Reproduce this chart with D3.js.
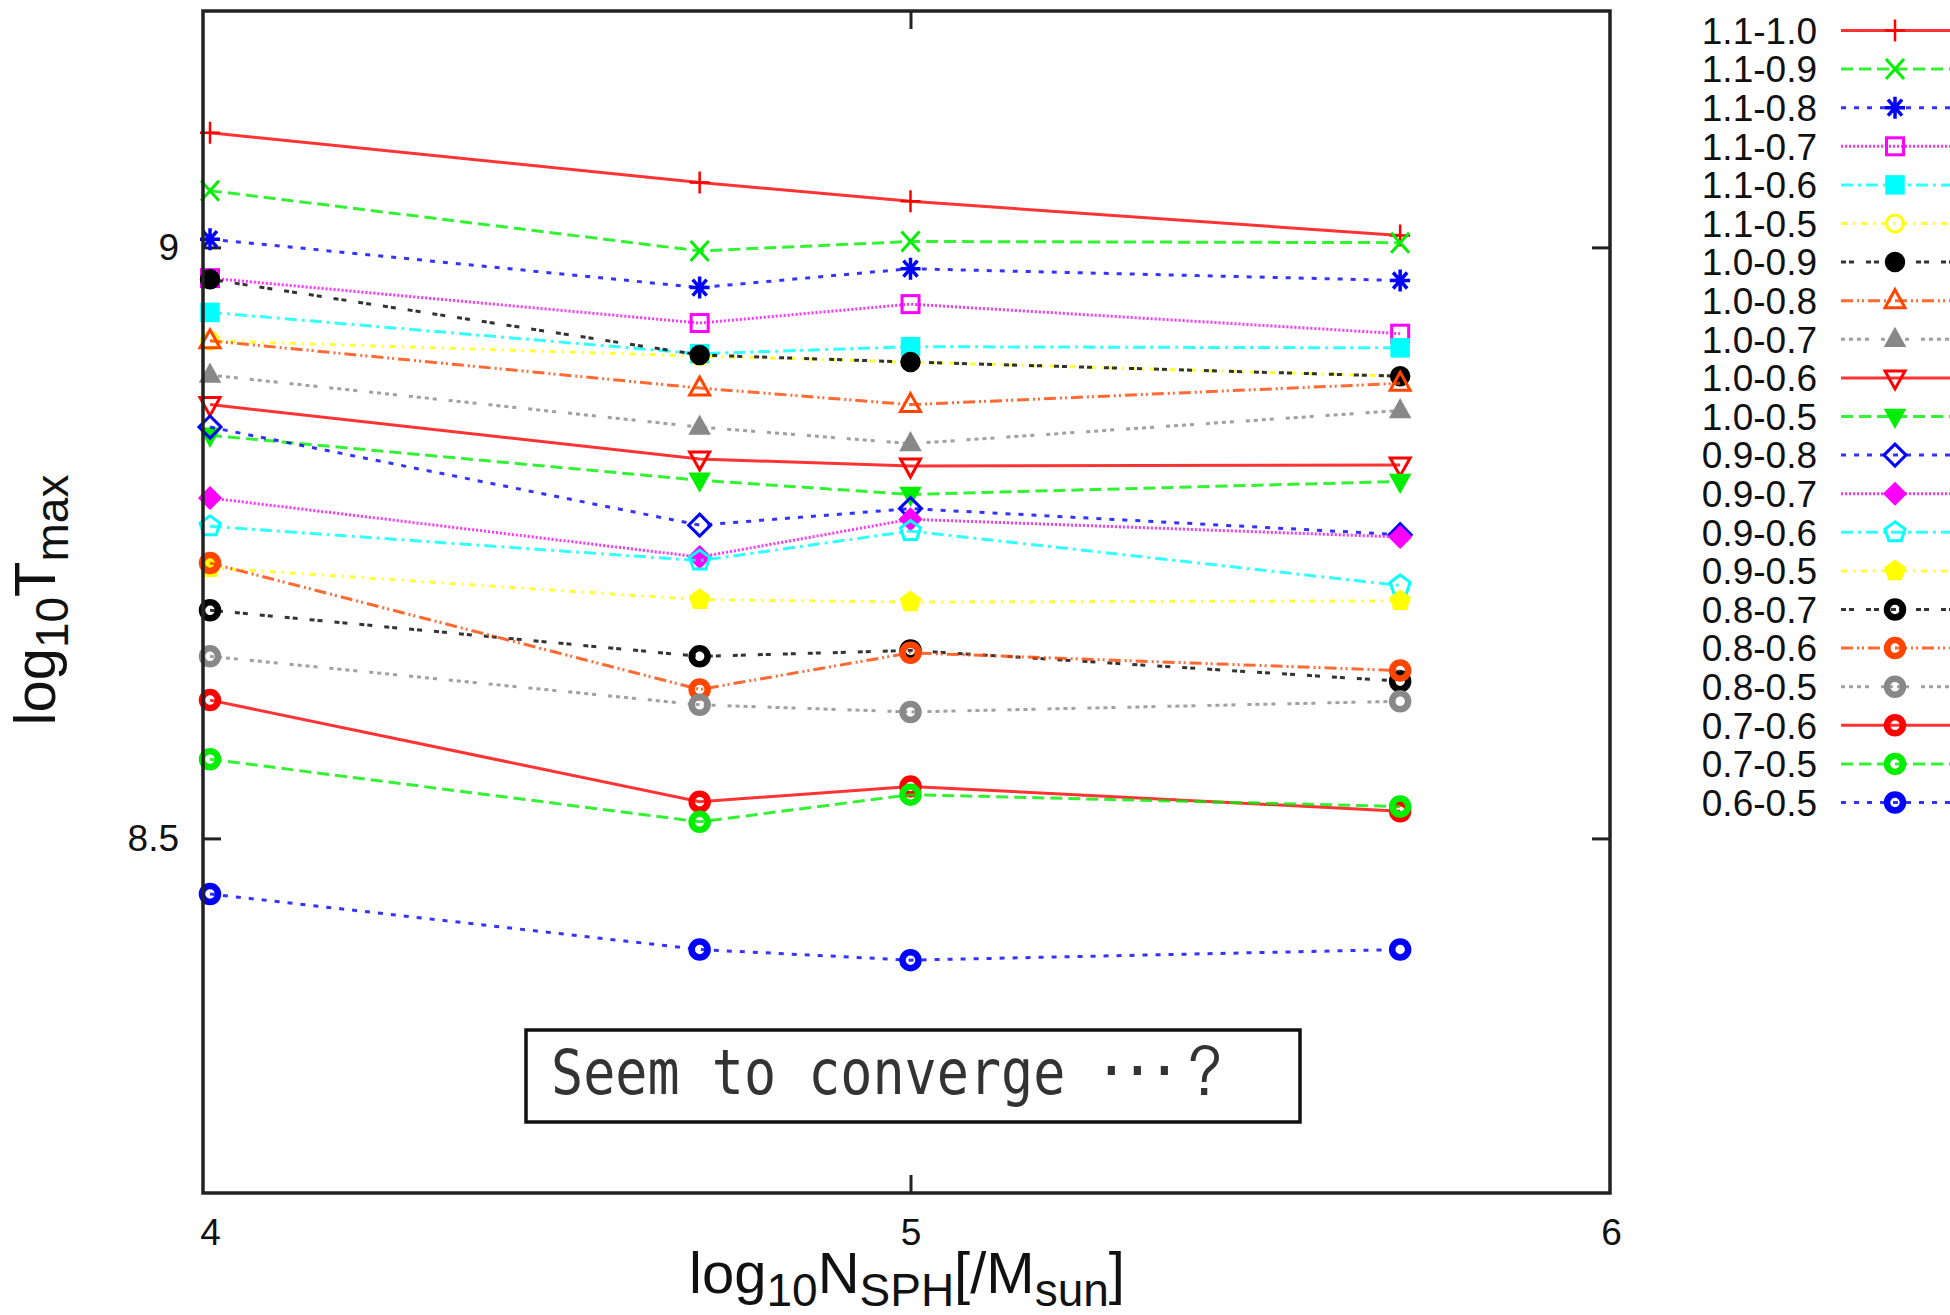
<!DOCTYPE html>
<html>
<head>
<meta charset="utf-8">
<script src="https://cdn.jsdelivr.net/npm/d3@7"></script>
<style>
  html, body { margin: 0; padding: 0; background: #fff; }
  svg { display: block; }
  text { fill: #111; }
</style>
</head>
<body>
<svg id="chart" width="1950" height="1315"></svg>
<script>
// x positions: log10 of particle number per solar mass
const nSph = [4, 4.699, 5, 5.699];
const xTicks = [4, 5, 6];
const yTicks = [8.5, 9];

const seriesLabels = [
  "1.1-1.0", "1.1-0.9", "1.1-0.8", "1.1-0.7", "1.1-0.6", "1.1-0.5",
  "1.0-0.9", "1.0-0.8", "1.0-0.7", "1.0-0.6", "1.0-0.5",
  "0.9-0.8", "0.9-0.7", "0.9-0.6", "0.9-0.5",
  "0.8-0.7", "0.8-0.6", "0.8-0.5",
  "0.7-0.6", "0.7-0.5", "0.6-0.5"
];

// log10 Tmax for each pair
const t11_10 = [9.097, 9.055, 9.039, 9.010];
const t11_09 = [9.048, 8.997, 9.005, 9.004];
const t11_08 = [9.007, 8.966, 8.982, 8.972];
const t11_07 = [8.974, 8.936, 8.952, 8.927];
const t11_06 = [8.945, 8.910, 8.916, 8.915];
const t11_05 = [8.921, 8.908, 8.903, 8.891];
const t10_09 = [8.973, 8.909, 8.903, 8.891];
const t10_08 = [8.921, 8.881, 8.867, 8.885];
const t10_07 = [8.892, 8.848, 8.834, 8.862];
const t10_06 = [8.867, 8.821, 8.815, 8.816];
const t10_05 = [8.841, 8.803, 8.791, 8.802];
const t09_08 = [8.848, 8.765, 8.779, 8.757];
const t09_07 = [8.788, 8.738, 8.770, 8.755];
const t09_06 = [8.764, 8.735, 8.760, 8.714];
const t09_05 = [8.729, 8.702, 8.700, 8.701];
const t08_07 = [8.693, 8.654, 8.659, 8.633];
const t08_06 = [8.733, 8.626, 8.657, 8.642];
const t08_05 = [8.654, 8.613, 8.607, 8.616];
const t07_06 = [8.617, 8.531, 8.544, 8.523];
const t07_05 = [8.567, 8.514, 8.537, 8.527];
const t06_05 = [8.453, 8.406, 8.397, 8.406];

const seriesValues = [
  t11_10, t11_09, t11_08, t11_07, t11_06, t11_05,
  t10_09, t10_08, t10_07, t10_06, t10_05,
  t09_08, t09_07, t09_06, t09_05,
  t08_07, t08_06, t08_05,
  t07_06, t07_05, t06_05
];

// gnuplot-like line types (cycle of 9)
const colors = ["#ff0000", "#00ee00", "#0000ff", "#ff00ff", "#00ffff", "#ffff00", "#000000", "#ff4500", "#888888"];
const dashes = ["", "12,6", "5,8", "2,2", "12,5,3,5", "6,6,2,6", "5,3,5,12", "12,4,2,3,2,4", "4,4,4,4,4,4,4,12"];
const markers = [
  "plus", "cross", "star", "square", "squareFill", "circle", "circleFill",
  "triUp", "triUpFill", "triDown", "triDownFill", "diamond", "diamondFill",
  "pent", "pentFill", "ring", "ring", "ring", "ring", "ring", "ring"
];

const sansFont = "'Liberation Sans', Arial, sans-serif";
const svg = d3.select("#chart");
const frame = { left: 203, right: 1610, top: 11, bottom: 1193 };

const x = d3.scaleLinear().domain([4, 6]).range([210, 1611]);
const y = d3.scaleLinear().domain([8.2, 9.2]).range([frame.bottom, frame.top]);

// axes: inward ticks on all four sides, labels bottom/left only
const tickLen = 18;
const styleAxis = g => {
  g.select(".domain").remove();
  g.selectAll(".tick line").attr("stroke", "#222").attr("stroke-width", 3);
  g.selectAll("text").style("font-size", "37px").style("font-family", sansFont).style("fill", "#111");
};

svg.append("g")
  .attr("transform", `translate(0,${frame.bottom})`)
  .call(d3.axisBottom(x).tickValues(xTicks).tickSizeInner(-tickLen).tickSizeOuter(0).tickPadding(26).tickFormat(d3.format("d")))
  .call(styleAxis)
  .call(g => g.selectAll(".tick line").filter(d => d !== 5).remove());

svg.append("g")
  .attr("transform", `translate(0,${frame.top})`)
  .call(d3.axisTop(x).tickValues([5]).tickSizeInner(-tickLen).tickSizeOuter(0).tickFormat(""))
  .call(styleAxis);

svg.append("g")
  .attr("transform", `translate(${frame.left},0)`)
  .call(d3.axisLeft(y).tickValues(yTicks).tickSizeInner(-tickLen).tickSizeOuter(0).tickPadding(24).tickFormat(d => d === 9 ? "9" : "8.5"))
  .call(styleAxis);

svg.append("g")
  .attr("transform", `translate(${frame.right},0)`)
  .call(d3.axisRight(y).tickValues(yTicks).tickSizeInner(-tickLen).tickSizeOuter(0).tickFormat(""))
  .call(styleAxis);

// marker shapes
const pentagon = r => d3.range(5).map(i => {
  const a = -Math.PI / 2 + i * 2 * Math.PI / 5;
  return [r * Math.cos(a), r * Math.sin(a)];
});

function drawMarker(g, type, color) {
  const open = { fill: "none", stroke: color, "stroke-width": 3 };
  const filled = { fill: color, stroke: color, "stroke-width": 1.5 };
  const apply = (el, attrs) => Object.entries(attrs).forEach(([k, v]) => el.attr(k, v));
  let el;
  switch (type) {
    case "plus":
      el = g.append("path").attr("d", "M-10,0H10M0,-11V11"); apply(el, open); el.attr("stroke-width", 2.5); break;
    case "cross":
      el = g.append("path").attr("d", "M-9,-10L9,10M-9,10L9,-10"); apply(el, open); break;
    case "star":
      el = g.append("path").attr("d", "M-10,0H10M0,-11V11M-7,-8L7,8M-7,8L7,-8"); apply(el, open); el.attr("stroke-width", 3.5); break;
    case "square":
      el = g.append("rect").attr("x", -8.5).attr("y", -8.5).attr("width", 17).attr("height", 17); apply(el, open); break;
    case "squareFill":
      el = g.append("rect").attr("x", -9).attr("y", -9).attr("width", 18).attr("height", 18); apply(el, filled); break;
    case "circle":
      el = g.append("circle").attr("r", 8.5); apply(el, open); break;
    case "circleFill":
      el = g.append("circle").attr("r", 9.5); apply(el, filled); break;
    case "triUp":
    case "triUpFill":
      el = g.append("path").attr("d", "M0,-11L10,7L-10,7Z"); apply(el, type === "triUp" ? open : filled); break;
    case "triDown":
    case "triDownFill":
      el = g.append("path").attr("d", "M0,11L10,-7L-10,-7Z"); apply(el, type === "triDown" ? open : filled); break;
    case "diamond":
    case "diamondFill":
      el = g.append("path").attr("d", "M0,-11L11,0L0,11L-11,0Z"); apply(el, type === "diamond" ? open : filled); break;
    case "pent":
    case "pentFill":
      el = g.append("path").attr("d", "M" + pentagon(10.5).join("L") + "Z"); apply(el, type === "pent" ? open : filled); break;
    case "ring":
      el = g.append("circle").attr("r", 8); apply(el, open); el.attr("stroke-width", 6.5); break;
  }
}

const line = d3.line().x((d, i) => x(nSph[i])).y(d => y(d));

const plot = svg.append("g");
seriesValues.forEach((vals, s) => {
  const c = colors[s % 9];
  plot.append("path")
    .datum(vals)
    .attr("d", line)
    .attr("fill", "none")
    .attr("stroke", c)
    .attr("stroke-opacity", 0.8)
    .attr("stroke-width", 3)
    .attr("stroke-dasharray", dashes[s % 9] || null);
  vals.forEach((v, i) => {
    const g = plot.append("g").attr("transform", `translate(${x(nSph[i])},${y(v)})`);
    drawMarker(g, markers[s], c);
  });
});

// frame
svg.append("rect")
  .attr("x", frame.left).attr("y", frame.top)
  .attr("width", frame.right - frame.left).attr("height", frame.bottom - frame.top)
  .attr("fill", "none").attr("stroke", "#222").attr("stroke-width", 3.5);

// legend
const legend = svg.append("g");
seriesLabels.forEach((name, s) => {
  const ly = 30.5 + s * 38.6;
  const c = colors[s % 9];
  legend.append("text")
    .attr("x", 1817).attr("y", ly).attr("dy", "0.36em")
    .attr("text-anchor", "end")
    .style("font-family", sansFont).style("font-size", "37px")
    .text(name);
  legend.append("line")
    .attr("x1", 1841).attr("x2", 1952).attr("y1", ly).attr("y2", ly)
    .attr("stroke", c).attr("stroke-opacity", 0.8).attr("stroke-width", 3)
    .attr("stroke-dasharray", dashes[s % 9] || null);
  const g = legend.append("g").attr("transform", `translate(1895,${ly})`);
  drawMarker(g, markers[s], c);
});

// axis titles with subscripts
const subShift = 13;
const xTitle = svg.append("text")
  .attr("x", 907).attr("y", 1293)
  .attr("text-anchor", "middle")
  .style("font-family", sansFont).style("font-size", "58px");
xTitle.append("tspan").text("log");
xTitle.append("tspan").style("font-size", "46px").attr("dy", subShift).text("10");
xTitle.append("tspan").attr("dy", -subShift).text("N");
xTitle.append("tspan").style("font-size", "46px").attr("dy", subShift).text("SPH");
xTitle.append("tspan").attr("dy", -subShift).text("[/M");
xTitle.append("tspan").style("font-size", "46px").attr("dy", subShift).text("sun");
xTitle.append("tspan").attr("dy", -subShift).text("]");

const yTitle = svg.append("text")
  .attr("transform", "translate(55,600) rotate(-90)")
  .attr("text-anchor", "middle")
  .style("font-family", sansFont).style("font-size", "58px");
yTitle.append("tspan").text("log");
yTitle.append("tspan").style("font-size", "46px").attr("dy", subShift).text("10");
yTitle.append("tspan").attr("dy", -subShift).text("T");
yTitle.append("tspan").style("font-size", "46px").attr("dy", subShift).text("max");

// annotation box
svg.append("rect")
  .attr("x", 526).attr("y", 1030).attr("width", 774).attr("height", 92)
  .attr("fill", "#fff").attr("stroke", "#111").attr("stroke-width", 3.5);
svg.append("text")
  .attr("x", 551).attr("y", 1094)
  .style("font-family", "'DejaVu Sans Mono', monospace")
  .style("font-size", "62px")
  .style("fill", "#333")
  .attr("textLength", 680)
  .attr("lengthAdjust", "spacingAndGlyphs")
  .text("Seem to converge ･･･？");
</script>
</body>
</html>
